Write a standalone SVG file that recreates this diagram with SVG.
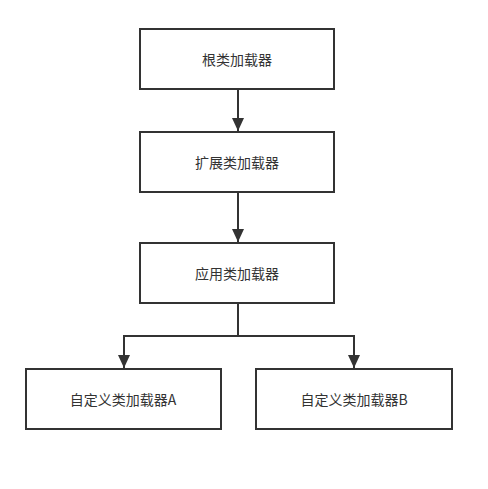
<svg xmlns="http://www.w3.org/2000/svg" width="488" height="489" viewBox="0 0 488 489">
<style>
.box{fill:#fff;stroke:#333;stroke-width:2}
.lbl{font-family:"Noto Sans CJK SC","Liberation Sans",sans-serif;font-size:14px;fill:#333;text-anchor:middle;dominant-baseline:central}
.edge{fill:none;stroke:#333;stroke-width:2}
</style>
<defs>
<marker id="arr" markerUnits="userSpaceOnUse" markerWidth="13" markerHeight="14" refX="13" refY="6" orient="auto">
<path d="M0,0 L13,6 L0,12 Z" fill="#333"/>
</marker>
</defs>
<rect width="488" height="489" fill="#fff"/>
<g id="connectors">
<line class="edge" x1="238" y1="89" x2="238" y2="131" marker-end="url(#arr)"/>
<line class="edge" x1="238" y1="192" x2="238" y2="242" marker-end="url(#arr)"/>
<polyline class="edge" points="238,303 238,336 124,336 124,368" marker-end="url(#arr)"/>
<polyline class="edge" points="238,336 354,336 354,368" marker-end="url(#arr)"/>
</g>
<g id="root">
<rect class="box" x="140" y="29" width="194" height="60"/>
<text class="lbl" x="237" y="59">根类加载器</text>
</g>
<g id="ext">
<rect class="box" x="140" y="132" width="194" height="60"/>
<text class="lbl" x="237" y="162">扩展类加载器</text>
</g>
<g id="app">
<rect class="box" x="140" y="243" width="194" height="60"/>
<text class="lbl" x="237" y="273">应用类加载器</text>
</g>
<g id="customA">
<rect class="box" x="26" y="369" width="195" height="60"/>
<text class="lbl" x="123" y="399">自定义类加载器A</text>
</g>
<g id="customB">
<rect class="box" x="256" y="369" width="196" height="60"/>
<text class="lbl" x="354" y="399">自定义类加载器B</text>
</g>
</svg>
